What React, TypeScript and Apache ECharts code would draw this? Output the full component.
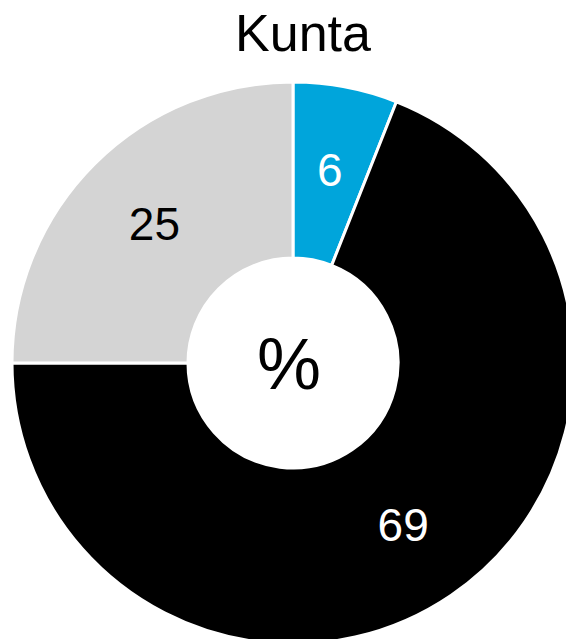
import React, { useEffect, useRef } from "react";
import * as echarts from "echarts";

const categories = ["A", "B", "C"];
const values = [6, 69, 25];
const colors = ["#00A5DB", "#000000", "#D4D4D4"];
const labelColors = ["#FFFFFF", "#FFFFFF", "#000000"];
const titleText = "Kunta";
const centerText = "%";

export default function App() {
  const ref = useRef<HTMLDivElement>(null);
  useEffect(() => {
    if (!ref.current) return;
    const chart = echarts.init(ref.current, null, { renderer: "svg" });
    chart.setOption({
      animation: false,
      backgroundColor: "#FFFFFF",
      graphic: [
        {
          type: "text",
          x: 303,
          y: 33,
          style: {
            text: titleText,
            font: '52px "Liberation Sans", Arial, sans-serif',
            fill: "#000000",
            textAlign: "center",
            textVerticalAlign: "middle",
          },
          z: 10,
        },
        {
          type: "text",
          x: 289,
          y: 364,
          style: {
            text: centerText,
            font: '72px "Liberation Sans", Arial, sans-serif',
            fill: "#000000",
            textAlign: "center",
            textVerticalAlign: "middle",
          },
          z: 10,
        },
      ],
      series: [
        {
          type: "pie",
          center: [293, 363],
          radius: [105, 281],
          startAngle: 90,
          clockwise: true,
          silent: true,
          itemStyle: { borderColor: "#FFFFFF", borderWidth: 3 },
          label: {
            show: true,
            position: "inside",
            fontSize: 46,
            fontFamily: '"Liberation Sans", Arial, sans-serif',
            formatter: "{c}",
          },
          labelLine: { show: false },
          data: categories.map((c, i) => ({
            name: c,
            value: values[i],
            itemStyle: { color: colors[i] },
            label: { color: labelColors[i] },
          })),
        },
      ],
    });
    return () => chart.dispose();
  }, []);
  return (
    <div
      ref={ref}
      style={{ position: "fixed", left: 0, top: 0, width: 566, height: 639 }}
    />
  );
}
